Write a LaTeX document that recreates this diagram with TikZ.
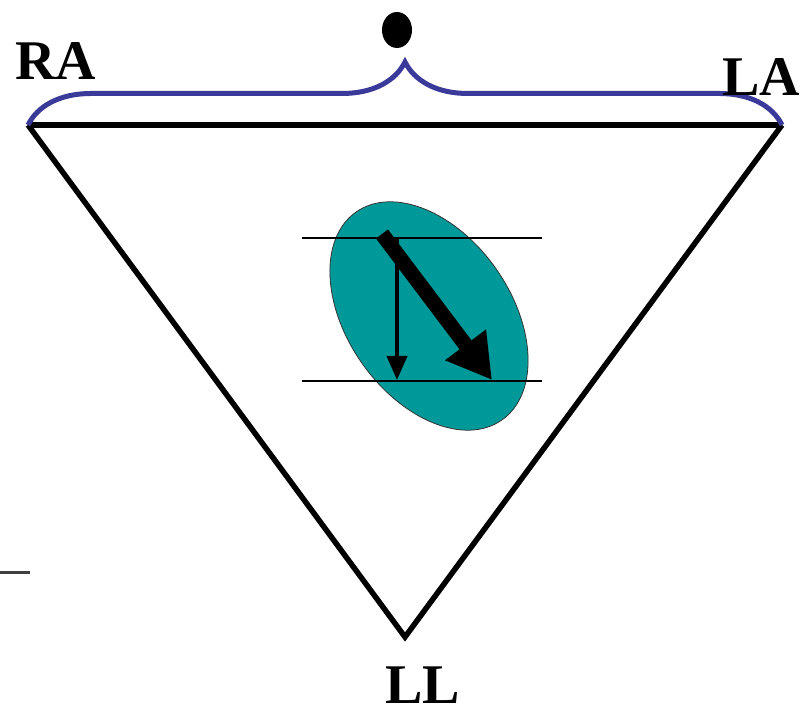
\documentclass[tikz,border=0pt]{standalone}
\usepackage{fontspec}
\setmainfont{Liberation Serif}
\usetikzlibrary{arrows.meta, decorations.pathreplacing, calc}
\definecolor{heart}{RGB}{0,153,153}
\definecolor{bracecol}{RGB}{58,58,155}
\tikzset{
	x=1pt, y=1pt,
	lead/.style={font=\fontsize{56}{56}\selectfont\bfseries, inner sep=0pt, text depth=0pt, anchor=base west},
	side/.style={line width=5.5pt, line join=miter},
	level/.style={line width=1.6pt},
}

\begin{document}
\begin{tikzpicture}
		\useasboundingbox (0,0) rectangle (805,719);
		\coordinate (RA) at (28,594);
		\coordinate (LA) at (782,594);
		\coordinate (LL) at (405,82);
		% triangle and top lead
		\draw[side] (RA) -- (LL) -- (LA);
		\draw[line width=6pt] (RA) -- (LA);
		\draw[bracecol, line width=5pt, decorate, decoration={brace, amplitude=63pt}] (RA) -- (LA);
		\fill (397,689) ellipse [x radius=15pt, y radius=18pt];
		% labels
		\node[lead] (labRA) at (15,639) {RA};
		\node[lead] (labLA) at (722,623) {LA};
		\node[lead] (labLL) at (385,15) {LL};
		% heart
		\fill[heart, draw=black!80, line width=0.8pt, rotate around={-55:(429,403)}] (429,403) ellipse [x radius=127pt, y radius=82pt];
		\coordinate (T1) at (302,481);
		\coordinate (T2) at (542,481);
		\coordinate (B1) at (302,338);
		\coordinate (B2) at (542,338);
		\draw[level] (T1) -- (T2);
		\draw[level] (B1) -- (B2);
		\coordinate (V0) at (397,481);
		\coordinate (V1) at (397,339);
		\draw[line width=4pt, -{Triangle[width=20pt, length=24pt]}] (V0) -- (V1);
		\coordinate (M0) at (382,485);
		\coordinate (M1) at (492,339);
		\draw[line width=15pt, -{Triangle[width=48pt, length=44pt]}] (M0) -- (M1);
		% stray dash
		\coordinate (D0) at (0,146);
		\coordinate (D1) at (30,146);
		\draw[line width=3pt, black!75] (D0) -- (D1);
	\end{tikzpicture}
\end{document}
